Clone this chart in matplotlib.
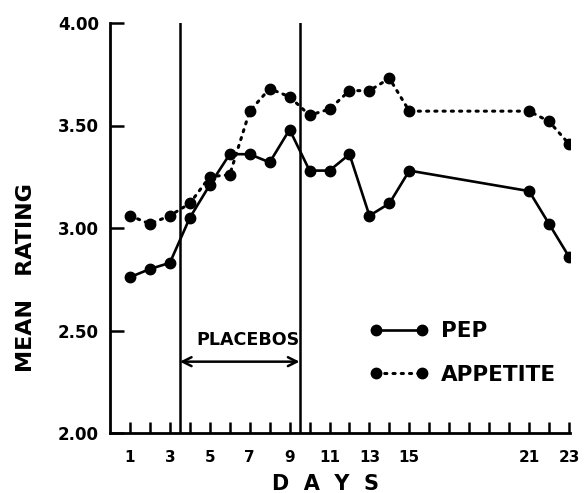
import matplotlib
matplotlib.use("Agg")
import matplotlib.pyplot as plt

days_pep = [1, 2, 3, 4, 5, 6, 7, 8, 9, 10, 11, 12, 13, 14, 15, 21, 22, 23]
pep = [2.76, 2.80, 2.83, 3.05, 3.21, 3.36, 3.36, 3.32, 3.48, 3.28, 3.28, 3.36, 3.06, 3.12, 3.28, 3.18, 3.02, 2.86]
days_app = [1, 2, 3, 4, 5, 6, 7, 8, 9, 10, 11, 12, 13, 14, 15, 21, 22, 23]
appetite = [3.06, 3.02, 3.06, 3.12, 3.25, 3.26, 3.57, 3.68, 3.64, 3.55, 3.58, 3.67, 3.67, 3.73, 3.57, 3.57, 3.52, 3.41]
xtick_pos = list(range(1, 24))
xtick_labels = ["1", "", "3", "", "5", "", "7", "", "9", "", "11", "", "13", "", "15",
                "", "", "", "", "", "21", "", "23"]
ytick_pos = [2.0, 2.5, 3.0, 3.5, 4.0]
ytick_labels = ["2.00", "2.50", "3.00", "3.50", "4.00"]
placebo_start, placebo_end = 3.5, 9.5

plt.rcParams['font.family'] = ['DejaVu Sans']
plt.rcParams['font.weight'] = 'bold'

fig = plt.figure(figsize=(5.86, 4.93), dpi=100)
ax = fig.add_axes([110/586, 1-433/493, (570-110)/586, (433-23)/493])

ax.plot(days_pep, pep, '-', color='black', lw=1.9, marker='o', ms=7.5, label='PEP')
ax.plot(days_app, appetite, linestyle=(0, (0.7, 2.0)), color='black', lw=2.2,
        dash_capstyle='round', marker='o', ms=7.5, label='APPETITE')

for xv in (placebo_start, placebo_end):
    ax.axvline(xv, color='black', lw=1.8)

ax.annotate('', xy=(placebo_start, 2.348), xytext=(placebo_end, 2.348),
            arrowprops=dict(arrowstyle='<->', lw=1.8, color='black', mutation_scale=16,
                            shrinkA=0, shrinkB=0))
ax.text(6.92, 2.41, 'PLACEBOS', ha='center', va='bottom',
        fontsize=12.6, fontweight='bold')

ax.set_xlim(0, 23.05)
ax.set_ylim(2.0, 4.0)
ax.set_xticks(xtick_pos)
ax.set_xticklabels(xtick_labels)
ax.set_yticks(ytick_pos)
ax.set_yticklabels(ytick_labels)
ax.tick_params(axis='x', direction='in', length=8, width=1.8, pad=12, labelsize=11)
ax.tick_params(axis='y', direction='in', length=10, width=1.8, pad=8, labelsize=12)
for s in ('top', 'right'):
    ax.spines[s].set_visible(False)
for s in ('left', 'bottom'):
    ax.spines[s].set_linewidth(2)

ax.set_xlabel('D  A  Y  S', fontsize=15, fontweight='bold')
ax.xaxis.set_label_coords((325-110)/460, -0.1)
ax.set_ylabel('MEAN   RATING', fontsize=16, fontweight='bold')
ax.yaxis.set_label_coords(-0.182, 0.378)
ax.yaxis.label.set_va('center')

leg = ax.legend(loc='upper left', bbox_to_anchor=(0.545, 0.294), numpoints=2,
                frameon=False, handlelength=2.75, handletextpad=0.58,
                labelspacing=1.1, fontsize=15.5, borderaxespad=0)

fig.savefig('out.png', dpi=100)
